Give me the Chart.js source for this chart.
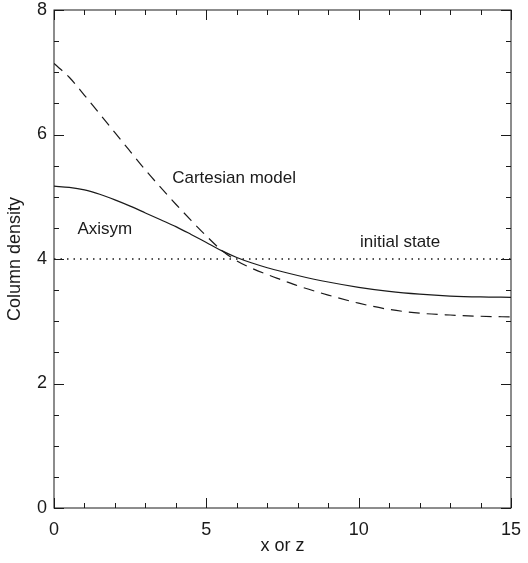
<!DOCTYPE html>
<html>
<head>
<meta charset="utf-8">
<script src="https://cdn.jsdelivr.net/npm/chart.js@4/dist/chart.umd.min.js"></script>
<style>
  html, body { margin: 0; padding: 0; background: #fff; }
  #wrap { width: 528px; height: 563px; }
</style>
</head>
<body>
<div id="wrap"><canvas id="densityChart"></canvas></div>
<script>
// values
const xPos = [0, 0.5, 1, 1.5, 2, 2.5, 3, 3.5, 4, 4.5, 5, 5.5, 6, 6.5, 7, 7.5, 8, 9, 10, 11, 12, 13, 14, 15];
const axisym = [5.17, 5.15, 5.11, 5.04, 4.95, 4.85, 4.74, 4.63, 4.52, 4.395, 4.265, 4.135, 4.025, 3.935, 3.86, 3.795, 3.735, 3.63, 3.545, 3.48, 3.435, 3.405, 3.39, 3.385];
const cartesian = [7.14, 6.92, 6.63, 6.33, 6.03, 5.73, 5.43, 5.15, 4.88, 4.62, 4.37, 4.14, 3.97, 3.85, 3.75, 3.66, 3.57, 3.42, 3.29, 3.19, 3.13, 3.10, 3.08, 3.07];
const initialX = [0, 15];
const initialY = [4, 4];

const noteText = ['Cartesian model', 'Axisym', 'initial state'];
const noteX = [5.91, 1.67, 11.36];
const noteY = [5.29, 4.48, 4.27];

const xTicks = [0, 5, 10, 15];
const yTicks = [0, 2, 4, 6, 8];

const FONT = 'Liberation Sans, DejaVu Sans, sans-serif';
const INK = '#1a1a1a';

function pts(xs, ys) {
  return xs.map((x, i) => ({ x: x, y: ys[i] }));
}

// inward ticks on all four sides + frame
const frameTicks = {
  id: 'frameTicks',
  afterDraw(chart) {
    const ctx = chart.ctx;
    const a = chart.chartArea;
    const xs = chart.scales.x, ys = chart.scales.y;
    ctx.save();
    ctx.strokeStyle = INK;
    ctx.lineWidth = 1;
    ctx.strokeRect(a.left, a.top, a.right - a.left, a.bottom - a.top);
    ctx.beginPath();
    for (let v = 0; v <= 15; v++) {
      const len = v % 5 === 0 ? 10 : 5;
      const px = Math.round(xs.getPixelForValue(v)) + 0.5;
      ctx.moveTo(px, a.bottom); ctx.lineTo(px, a.bottom - len);
      ctx.moveTo(px, a.top); ctx.lineTo(px, a.top + len);
    }
    for (let v = 0; v <= 8; v += 0.5) {
      const len = v % 2 === 0 ? 10 : 5;
      const py = Math.round(ys.getPixelForValue(v)) + 0.5;
      ctx.moveTo(a.left, py); ctx.lineTo(a.left + len, py);
      ctx.moveTo(a.right, py); ctx.lineTo(a.right - len, py);
    }
    ctx.stroke();

    ctx.fillStyle = INK;
    ctx.font = '17px ' + FONT;
    ctx.textAlign = 'center';
    ctx.textBaseline = 'middle';
    noteText.forEach((t, i) => {
      ctx.fillText(t, xs.getPixelForValue(noteX[i]), ys.getPixelForValue(noteY[i]));
    });
    ctx.restore();
  }
};

const ctx = document.getElementById('densityChart').getContext('2d');
new Chart(ctx, {
  type: 'scatter',
  data: {
    datasets: [
      {
        label: 'Axisym',
        data: pts(xPos, axisym),
        showLine: true,
        borderColor: INK,
        borderWidth: 1.2,
        pointRadius: 0,
        cubicInterpolationMode: 'monotone'
      },
      {
        label: 'Cartesian model',
        data: pts(xPos, cartesian),
        showLine: true,
        borderColor: INK,
        borderWidth: 1.2,
        borderDash: [11, 7],
        pointRadius: 0,
        cubicInterpolationMode: 'monotone'
      },
      {
        label: 'initial state',
        data: pts(initialX, initialY),
        showLine: true,
        borderColor: INK,
        borderWidth: 1.3,
        borderDash: [1.5, 5],
        pointRadius: 0
      }
    ]
  },
  options: {
    responsive: true,
    maintainAspectRatio: false,
    animation: false,
    layout: { padding: { top: 10, right: 17, left: 0, bottom: 0 } },
    plugins: {
      legend: { display: false },
      tooltip: { enabled: false }
    },
    scales: {
      x: {
        type: 'linear',
        min: 0,
        max: 15,
        afterFit: (s) => { s.height = 55; s.paddingLeft = 0; s.paddingRight = 0; },
        afterBuildTicks: (s) => { s.ticks = xTicks.map(v => ({ value: v })); },
        grid: { display: false, drawTicks: false },
        border: { display: false },
        ticks: { color: INK, padding: 11, maxRotation: 0, font: { family: FONT, size: 18 } },
        title: { display: true, text: 'x or z', color: INK, padding: { top: 0, bottom: 6 }, font: { family: FONT, size: 18 } }
      },
      y: {
        type: 'linear',
        min: 0,
        max: 8,
        afterFit: (s) => { s.width = 54; s.paddingTop = 0; s.paddingBottom = 0; },
        afterBuildTicks: (s) => { s.ticks = yTicks.map(v => ({ value: v })); },
        grid: { display: false, drawTicks: false },
        border: { display: false },
        ticks: { color: INK, padding: 7, font: { family: FONT, size: 18 } },
        title: { display: true, text: 'Column density', color: INK, padding: { top: 4, bottom: 0 }, font: { family: FONT, size: 18 } }
      }
    }
  },
  plugins: [frameTicks]
});
</script>
</body>
</html>
